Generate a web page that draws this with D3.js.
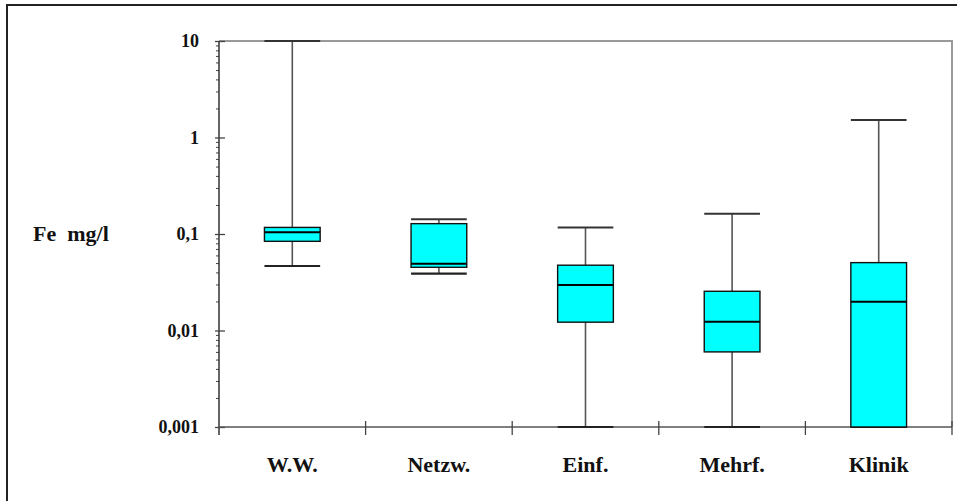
<!DOCTYPE html>
<html>
<head>
<meta charset="utf-8">
<script src="https://cdn.jsdelivr.net/npm/d3@7"></script>
</head>
<body style="margin:0">
<svg id="chart" width="957" height="501"></svg>
<script>
// Iron concentration (Fe, mg/l) by sampling group
const categories = ["W.W.", "Netzw.", "Einf.", "Mehrf.", "Klinik"];
const whiskerLow  = [0.0466, 0.0388, 0.001, 0.001, 0.001];
const quartile1   = [0.084, 0.0452, 0.0122, 0.0060, 0.001];
const medians     = [0.104, 0.0492, 0.0296, 0.0123, 0.0199];
const quartile3   = [0.117, 0.128, 0.0475, 0.0255, 0.0505];
const whiskerHigh = [10, 0.142, 0.117, 0.162, 1.52];
const tickValues  = [0.001, 0.01, 0.1, 1, 10];
const tickLabels  = ["0,001", "0,01", "0,1", "1", "10"];
const yTitle = "Fe\u00a0\u00a0mg/l";

// bold serif labels
const label = (sel, size) => sel
  .attr("font-family", "Liberation Serif").attr("font-weight", "bold")
  .attr("font-size", size).attr("fill", "#111");

const rows = categories.map((c, i) => ({
  cat: c, lo: whiskerLow[i], q1: quartile1[i], med: medians[i], q3: quartile3[i], hi: whiskerHigh[i]
}));

const svg = d3.select("#chart");
const plot = { left: 219, right: 952, top: 41, bottom: 427 };

const x = d3.scaleBand().domain(categories).range([plot.left, plot.right]).padding(0);
const y = d3.scaleLog().domain([0.001, 10]).range([plot.bottom, plot.top]);

// outer frame
svg.append("rect")
  .attr("x", 7).attr("y", 5).attr("width", 1000).attr("height", 600)
  .attr("fill", "none").attr("stroke", "#222").attr("stroke-width", 2);

// plot border (top and right)
svg.append("path")
  .attr("d", `M${plot.left},${plot.top}H${plot.right}V${plot.bottom}`)
  .attr("fill", "none").attr("stroke", "#999").attr("stroke-width", 2);

// minor ticks on the log axis
const minors = [];
for (let e = -3; e < 1; e++) for (let m = 2; m <= 9; m++) minors.push(m * Math.pow(10, e));
svg.append("g").attr("transform", `translate(${plot.left},0)`)
  .call(d3.axisLeft(y).tickValues(minors).tickSize(3).tickFormat(""))
  .call(g => g.select(".domain").remove())
  .call(g => g.selectAll("line").attr("stroke", "#444"));

// major ticks and labels
const gy = svg.append("g").attr("transform", `translate(${plot.left},0)`)
  .call(d3.axisLeft(y).tickValues(tickValues).tickSize(4).tickPadding(16).tickFormat((d, i) => tickLabels[i]));
gy.attr("font-family", null).attr("font-size", null);
gy.select(".domain").attr("stroke", "#333").attr("stroke-width", 1.5).attr("d", `M0,${plot.top}V${plot.bottom + 8}`);
gy.selectAll(".tick line").attr("x2", -4).attr("x1", 6).attr("stroke", "#444").attr("stroke-width", 1.3);
gy.selectAll(".tick text").attr("dy", "0.33em").call(label, 18);

// category axis
const gx = svg.append("g").attr("transform", `translate(0,${plot.bottom})`)
  .call(d3.axisBottom(x).tickSize(0).tickPadding(29));
gx.attr("font-family", null).attr("font-size", null);
gx.select(".domain").attr("stroke", "#555").attr("stroke-width", 1.5).attr("d", `M${plot.left},0H${plot.right}`);
gx.selectAll(".tick text").call(label, 22);

// band separators on the category axis
const bounds = categories.map(c => x(c) + x.bandwidth());
svg.append("g").selectAll("line").data(bounds).join("line")
  .attr("x1", d => d).attr("x2", d => d)
  .attr("y1", plot.bottom - 6).attr("y2", plot.bottom + 8)
  .attr("stroke", "#444").attr("stroke-width", 1.3);

// y-axis title
svg.append("text").attr("x", 33).attr("y", 241).text(yTitle).call(label, 22);

// boxes and whiskers
const bw = x.bandwidth() * 0.38;
const g = svg.append("g").selectAll("g").data(rows).join("g")
  .attr("transform", d => `translate(${x(d.cat) + x.bandwidth() / 2},0)`);
g.append("line").attr("x1", 0).attr("x2", 0)
  .attr("y1", d => y(d.lo)).attr("y2", d => y(d.hi))
  .attr("stroke", "#555").attr("stroke-width", 1.6);
g.append("line").attr("x1", -bw / 2).attr("x2", bw / 2)
  .attr("y1", d => y(d.hi)).attr("y2", d => y(d.hi))
  .attr("stroke", "#333").attr("stroke-width", 2);
g.append("line").attr("x1", -bw / 2).attr("x2", bw / 2)
  .attr("y1", d => y(d.lo)).attr("y2", d => y(d.lo))
  .attr("stroke", "#222").attr("stroke-width", 2.2);
g.append("rect").attr("x", -bw / 2).attr("width", bw)
  .attr("y", d => y(d.q3)).attr("height", d => y(d.q1) - y(d.q3))
  .attr("fill", "#00ffff").attr("stroke", "#111").attr("stroke-width", 1.4);
g.append("line").attr("x1", -bw / 2).attr("x2", bw / 2)
  .attr("y1", d => y(d.med)).attr("y2", d => y(d.med))
  .attr("stroke", "#000").attr("stroke-width", 2);
</script>
</body>
</html>
